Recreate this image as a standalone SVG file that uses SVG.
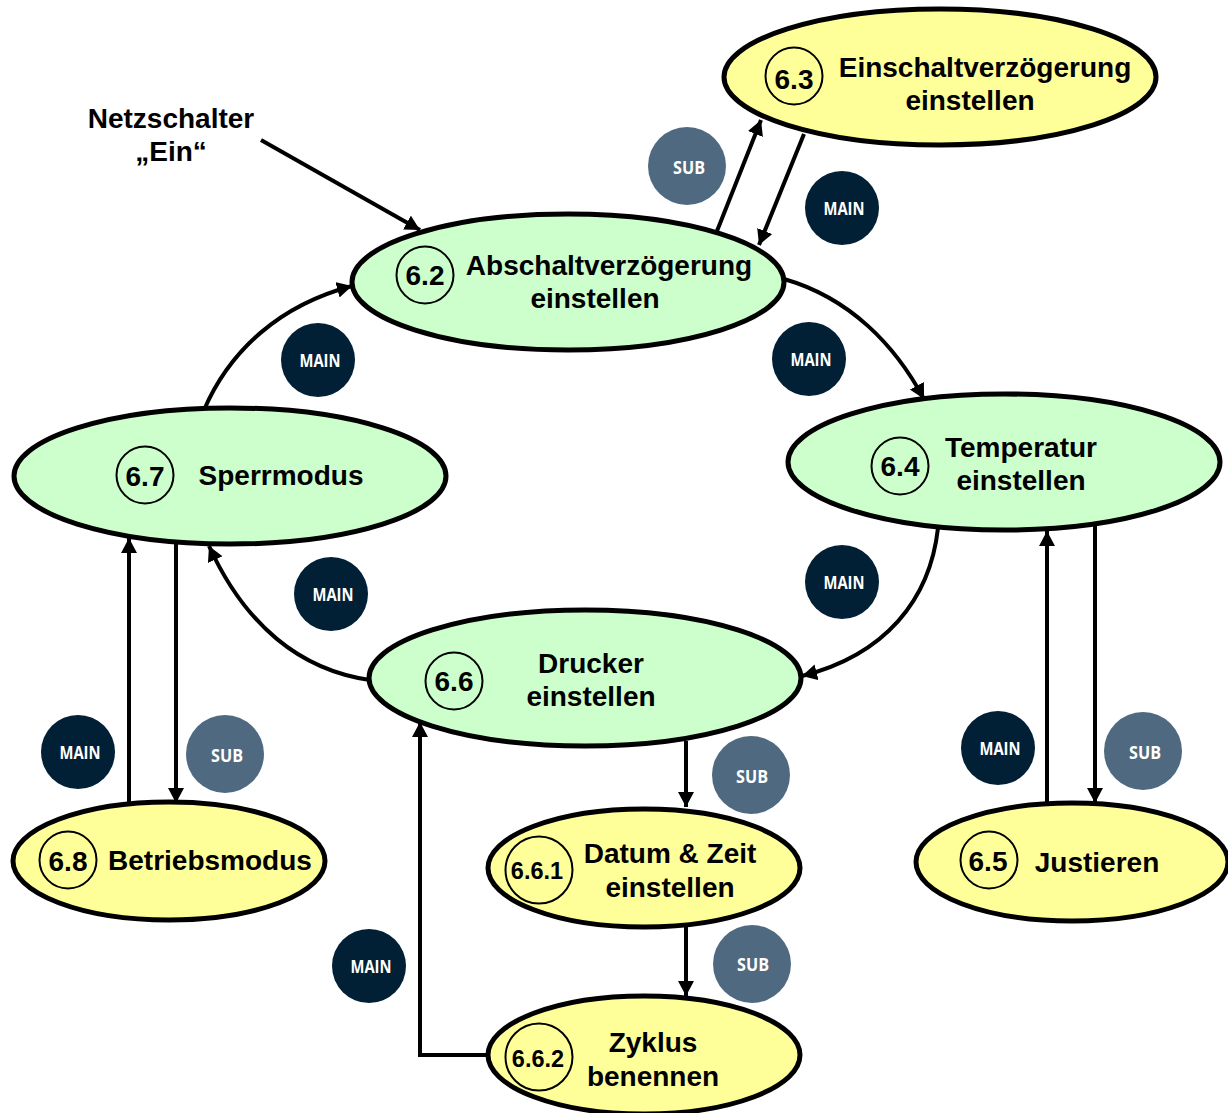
<svg xmlns="http://www.w3.org/2000/svg" width="1228" height="1113" viewBox="0 0 1228 1113">
<style>
.g{fill:#ccffcc;stroke:#000;stroke-width:5}
.y{fill:#ffff99;stroke:#000;stroke-width:5}
.n{fill:none;stroke:#000;stroke-width:2}
text{font-family:"Liberation Sans",Arial,sans-serif;font-weight:700;fill:#000;text-anchor:middle}
.t{font-size:28px}
.num{font-size:28px}
.num2{font-size:23.5px}
.c{fill:none;stroke:#000;stroke-width:4}
.bm{fill:#011f35}
.bs{fill:#4f6a80}
.bt{font-family:"Open Sans",sans-serif;font-size:18.5px;fill:#fff;font-weight:700}
</style>
<defs>
<marker id="a" markerUnits="userSpaceOnUse" markerWidth="17" markerHeight="17" refX="15" refY="8" orient="auto"><path d="M0 0L15 8L0 16Z" fill="#000"/></marker>
</defs>
<g id="connectors">
<path class="c" marker-end="url(#a)" d="M261 140L420 230"/>
<path class="c" marker-end="url(#a)" d="M717 231L761 120"/>
<path class="c" marker-end="url(#a)" d="M804 134L759 245"/>
<path class="c" marker-end="url(#a)" d="M784 279C850 298 895 345 924 399"/>
<path class="c" marker-end="url(#a)" d="M938 528C930 600 885 655 802 676"/>
<path class="c" marker-end="url(#a)" d="M1095 526L1095 803"/>
<path class="c" marker-end="url(#a)" d="M1047 803L1047 531"/>
<path class="c" marker-end="url(#a)" d="M370 680C300 670 245 625 209 546"/>
<path class="c" marker-end="url(#a)" d="M204 410C230 350 280 305 352 286"/>
<path class="c" marker-end="url(#a)" d="M176 543L176 803"/>
<path class="c" marker-end="url(#a)" d="M129 803L129 538"/>
<path class="c" marker-end="url(#a)" d="M686 741L686 807"/>
<path class="c" marker-end="url(#a)" d="M686 927L686 996"/>
<path class="c" marker-end="url(#a)" d="M488 1055L420 1055L420 722"/>
</g>
<g id="badges">
<circle class="bs" cx="687" cy="166" r="39"/><text class="bt" x="689" y="174" textLength="32" lengthAdjust="spacingAndGlyphs">SUB</text>
<circle class="bm" cx="842" cy="208" r="37"/><text class="bt" x="844" y="215" textLength="41" lengthAdjust="spacingAndGlyphs">MAIN</text>
<circle class="bm" cx="809" cy="359" r="37"/><text class="bt" x="811" y="366" textLength="41" lengthAdjust="spacingAndGlyphs">MAIN</text>
<circle class="bm" cx="318" cy="360" r="37"/><text class="bt" x="320" y="367" textLength="41" lengthAdjust="spacingAndGlyphs">MAIN</text>
<circle class="bm" cx="331" cy="594" r="37"/><text class="bt" x="333" y="601" textLength="41" lengthAdjust="spacingAndGlyphs">MAIN</text>
<circle class="bm" cx="842" cy="582" r="37"/><text class="bt" x="844" y="589" textLength="41" lengthAdjust="spacingAndGlyphs">MAIN</text>
<circle class="bm" cx="78" cy="752" r="37"/><text class="bt" x="80" y="759" textLength="41" lengthAdjust="spacingAndGlyphs">MAIN</text>
<circle class="bs" cx="225" cy="754" r="39"/><text class="bt" x="227" y="762" textLength="32" lengthAdjust="spacingAndGlyphs">SUB</text>
<circle class="bm" cx="998" cy="748" r="37"/><text class="bt" x="1000" y="755" textLength="41" lengthAdjust="spacingAndGlyphs">MAIN</text>
<circle class="bs" cx="1143" cy="751" r="39"/><text class="bt" x="1145" y="759" textLength="32" lengthAdjust="spacingAndGlyphs">SUB</text>
<circle class="bs" cx="751" cy="775" r="39"/><text class="bt" x="752" y="783" textLength="32" lengthAdjust="spacingAndGlyphs">SUB</text>
<circle class="bs" cx="752" cy="964" r="39"/><text class="bt" x="753" y="971" textLength="32" lengthAdjust="spacingAndGlyphs">SUB</text>
<circle class="bm" cx="369" cy="966" r="37"/><text class="bt" x="371" y="973" textLength="41" lengthAdjust="spacingAndGlyphs">MAIN</text>
</g>
<g id="label-start"><text class="t" x="171" y="128">Netzschalter</text><text class="t" x="171" y="161">„Ein“</text></g>
<g id="n63"><ellipse class="y" cx="940" cy="77" rx="216" ry="68"/><circle class="n" cx="794" cy="76" r="28.5"/><text class="num" x="794" y="89">6.3</text><text class="t" x="985" y="77">Einschaltverzögerung</text><text class="t" x="970" y="110">einstellen</text></g>
<g id="n62"><ellipse class="g" cx="568" cy="282" rx="216" ry="68"/><circle class="n" cx="425" cy="275" r="28.5"/><text class="num" x="425" y="285">6.2</text><text class="t" x="609" y="275">Abschaltverzögerung</text><text class="t" x="595" y="308">einstellen</text></g>
<g id="n64"><ellipse class="g" cx="1004" cy="462" rx="216" ry="68"/><circle class="n" cx="900" cy="466" r="28.5"/><text class="num" x="900" y="476">6.4</text><text class="t" x="1021" y="457">Temperatur</text><text class="t" x="1021" y="490">einstellen</text></g>
<g id="n67"><ellipse class="g" cx="230" cy="476" rx="216" ry="68"/><circle class="n" cx="145" cy="475" r="28.5"/><text class="num" x="145" y="486">6.7</text><text class="t" x="281" y="485">Sperrmodus</text></g>
<g id="n66"><ellipse class="g" cx="585" cy="678" rx="216" ry="68"/><circle class="n" cx="454" cy="681" r="28.5"/><text class="num" x="454" y="691">6.6</text><text class="t" x="591" y="673">Drucker</text><text class="t" x="591" y="706">einstellen</text></g>
<g id="n68"><ellipse class="y" cx="169" cy="861" rx="156" ry="59"/><circle class="n" cx="68" cy="860" r="28.5"/><text class="num" x="68" y="871">6.8</text><text class="t" x="210" y="870">Betriebsmodus</text></g>
<g id="n65"><ellipse class="y" cx="1072" cy="862" rx="156" ry="59"/><circle class="n" cx="989" cy="860" r="28.5"/><text class="num" x="988" y="871">6.5</text><text class="t" x="1097" y="872">Justieren</text></g>
<g id="n661"><ellipse class="y" cx="644" cy="868" rx="156" ry="59"/><circle class="n" cx="539" cy="870" r="33.5"/><text class="num2" x="537" y="879">6.6.1</text><text class="t" x="670" y="863">Datum &amp; Zeit</text><text class="t" x="670" y="897">einstellen</text></g>
<g id="n662"><ellipse class="y" cx="644" cy="1055" rx="156" ry="59"/><circle class="n" cx="539" cy="1057" r="33.5"/><text class="num2" x="538" y="1067">6.6.2</text><text class="t" x="653" y="1052">Zyklus</text><text class="t" x="653" y="1086">benennen</text></g>
</svg>
